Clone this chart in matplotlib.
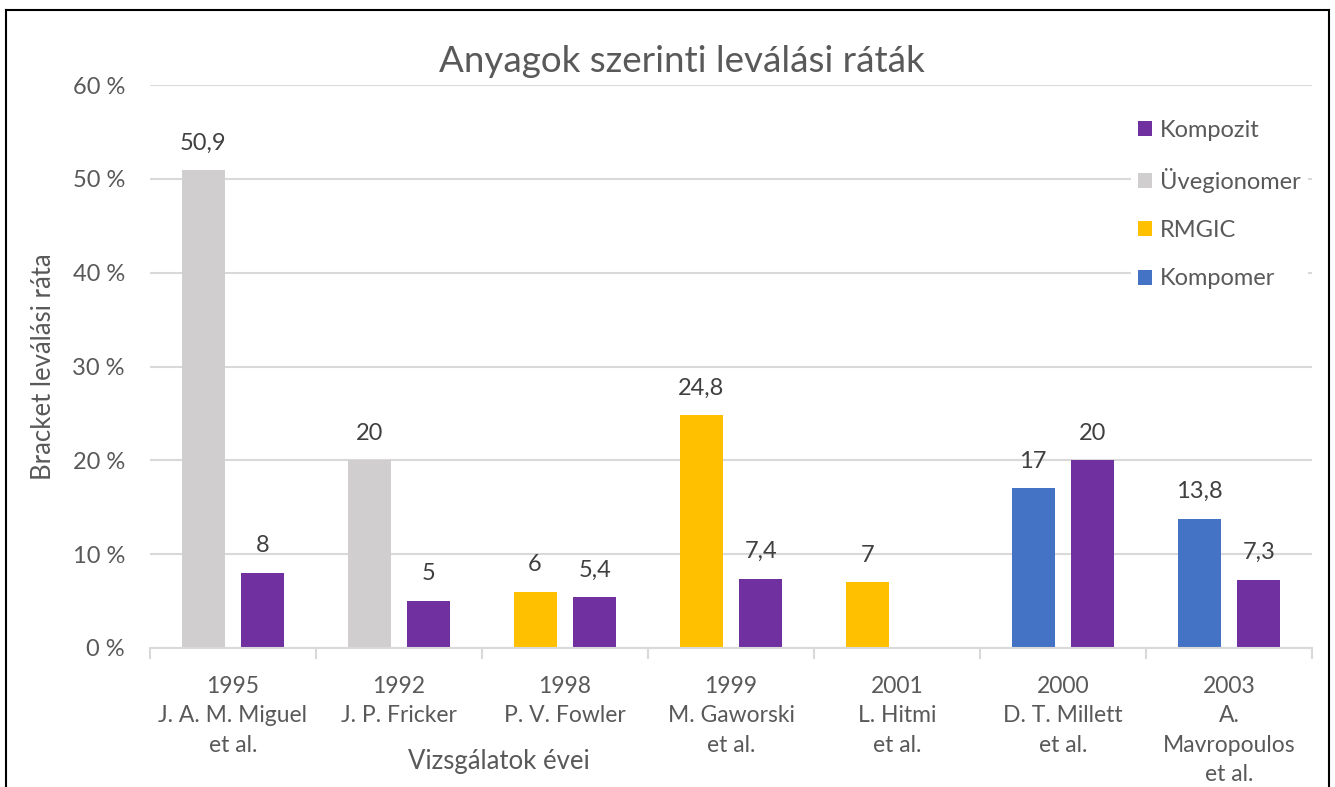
import matplotlib
matplotlib.use("Agg")
import matplotlib.pyplot as plt
from matplotlib.patches import Patch
from matplotlib.lines import Line2D
import numpy as np

# data
studies = ["1995\nJ. A. M. Miguel\net al.", "1992\nJ. P. Fricker", "1998\nP. V. Fowler",
           "1999\nM. Gaworski\net al.", "2001\nL. Hitmi\net al.", "2000\nD. T. Millett\net al.",
           "2003\nA.\nMavropoulos\net al."]
first_vals = [50.9, 20, 6, 24.8, 7, 17, 13.8]
first_mat = ["Üvegionomer", "Üvegionomer", "RMGIC", "RMGIC", "RMGIC", "Kompomer", "Kompomer"]
kompozit_vals = [8, 5, 5.4, 7.4, None, 20, 7.3]
yticks = [0, 10, 20, 30, 40, 50, 60]

colors = {"Kompozit": "#7030A0", "Üvegionomer": "#D0CECE",
          "RMGIC": "#FFC000", "Kompomer": "#4472C4"}
legend_order = ["Kompozit", "Üvegionomer", "RMGIC", "Kompomer"]

plt.rcParams['font.family'] = ['Lato', 'DejaVu Sans']
txt = "#595959"

fig = plt.figure(figsize=(13.35, 7.87), dpi=100)
ax = fig.add_axes([150/1335, 139/787, 1162/1335, 563/787])

x = np.arange(len(studies))
w = 0.26
off = 0.18

def lab(v):
    s = f"{v:g}".replace(".", ",")
    return s

for i in range(len(studies)):
    ax.bar(x[i] - off, first_vals[i], w, color=colors[first_mat[i]], zorder=2)
    ax.annotate(lab(first_vals[i]), (x[i] - off, first_vals[i]), xytext=(0, 12),
                textcoords="offset points", ha="center", va="bottom", fontsize=17, color="#404040")
    if kompozit_vals[i] is not None:
        ax.bar(x[i] + off, kompozit_vals[i], w, color=colors["Kompozit"], zorder=2)
        ax.annotate(lab(kompozit_vals[i]), (x[i] + off, kompozit_vals[i]), xytext=(0, 12),
                    textcoords="offset points", ha="center", va="bottom", fontsize=17, color="#404040")

ax.set_xlim(-0.5, len(studies) - 0.5)
ax.set_ylim(0, 60)
ax.set_yticks(yticks)
ax.set_yticklabels([f"{t} %" for t in yticks])
ax.grid(axis="y", color="#D9D9D9", linewidth=1.5, zorder=0)
for s in ["top", "right", "left"]:
    ax.spines[s].set_visible(False)
ax.spines["bottom"].set_color("#D9D9D9")
ax.spines["bottom"].set_linewidth(1.5)
ax.spines["bottom"].set_zorder(3)

ax.set_xticks(x)
ax.set_xticklabels(studies, fontsize=16.5, color=txt, linespacing=1.5)
ax.set_xticks(np.arange(len(studies) + 1) - 0.5, minor=True)
ax.tick_params(axis="x", which="major", length=0, pad=20)
ax.tick_params(axis="x", which="minor", length=8, color="#D9D9D9", width=1.5)
ax.tick_params(axis="y", length=0, labelsize=17, labelcolor=txt, pad=18)

ax.set_ylabel("Bracket leválási ráta", fontsize=18.5, color=txt, labelpad=12)
fig.text(499/1335, 1 - 762/787, "Vizsgálatok évei", fontsize=18.5, color=txt,
         ha="center", va="center")
fig.text(682/1335, 1 - 62/787, "Anyagok szerinti leválási ráták", fontsize=26.5,
         color=txt, ha="center", va="center")

handles = [Patch(facecolor=colors[m], edgecolor="none") for m in legend_order]
leg = fig.legend(handles, legend_order, loc="upper left",
                 bbox_to_anchor=(1119/1335, 1 - 101/787), bbox_transform=fig.transFigure,
                 fontsize=17, frameon=True, facecolor="white", edgecolor="none", framealpha=1,
                 handlelength=0.6, handleheight=0.6, handletextpad=0.35,
                 labelspacing=1.15, borderpad=0.3)
for t in leg.get_texts():
    t.set_color(txt)

# outer frame
fig.add_artist(Line2D([6/1335, 6/1335], [0, 1 - 10/787], transform=fig.transFigure,
                      color="black", linewidth=1.5))
fig.add_artist(Line2D([1329/1335, 1329/1335], [0, 1 - 10/787], transform=fig.transFigure,
                      color="black", linewidth=1.5))
fig.add_artist(Line2D([6/1335, 1329/1335], [1 - 10/787, 1 - 10/787], transform=fig.transFigure,
                      color="black", linewidth=1.5))

fig.savefig("out.png", dpi=100)
